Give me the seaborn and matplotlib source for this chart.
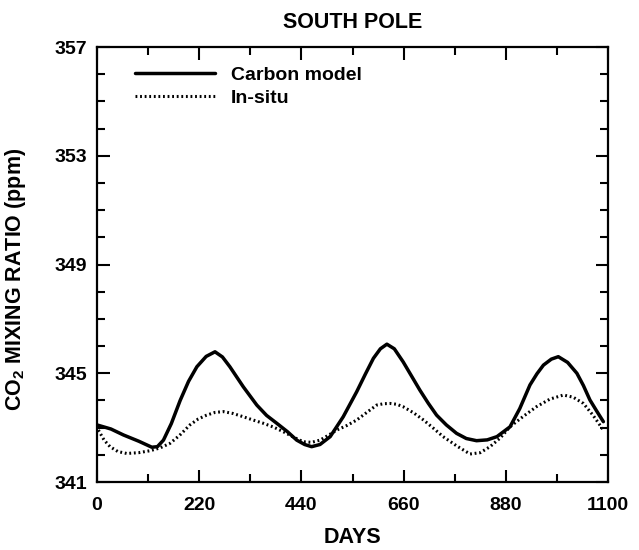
import matplotlib
matplotlib.use("Agg")
import matplotlib.pyplot as plt
from matplotlib.ticker import MultipleLocator, FixedLocator
import seaborn as sns
import pandas as pd

# Carbon model curve (days, ppm)
model_days = [0, 30, 57, 90, 118, 130, 143, 160, 179, 197, 215, 235, 254, 270, 286, 315,
              344, 365, 387, 410, 430, 447, 462, 480, 502, 530, 559, 578, 595, 610,
              624, 640, 659, 677, 695, 713, 731, 752, 774, 795, 817, 840, 861, 889,
              910, 932, 947, 961, 978, 993, 1013, 1033, 1047, 1061, 1076, 1090]
model_ppm = [343.10, 342.95, 342.73, 342.50, 342.28, 342.30, 342.54, 343.15, 344.00, 344.70,
             345.24, 345.62, 345.79, 345.60, 345.24, 344.50, 343.83, 343.45, 343.16,
             342.85, 342.54, 342.38, 342.30, 342.38, 342.67, 343.40, 344.32, 344.98,
             345.55, 345.90, 346.07, 345.90, 345.42, 344.90, 344.38, 343.90, 343.46,
             343.10, 342.79, 342.60, 342.52, 342.55, 342.67, 343.03, 343.70, 344.57,
             344.98, 345.30, 345.52, 345.61, 345.40, 345.00, 344.55, 344.02, 343.60,
             343.22]

# In-situ observations (days, ppm)
insitu_days = [3, 15, 28, 45, 64, 90, 114, 135, 157, 178, 200, 218, 236, 254, 272,
               293, 315, 336, 358, 380, 401, 422, 444, 462, 480, 498, 516, 538, 559,
               580, 602, 617, 631, 645, 659, 681, 703, 724, 745, 775, 803, 825, 846,
               868, 889, 918, 946, 975, 1004, 1025, 1047, 1068, 1090]
insitu_ppm = [342.91, 342.55, 342.30, 342.12, 342.05, 342.08, 342.15, 342.25, 342.42,
              342.72, 343.10, 343.32, 343.46, 343.56, 343.59, 343.52, 343.40, 343.28,
              343.16, 343.02, 342.85, 342.66, 342.48, 342.46, 342.54, 342.72, 342.91,
              343.08, 343.28, 343.55, 343.83, 343.88, 343.89, 343.86, 343.77, 343.55,
              343.28, 342.98, 342.67, 342.32, 342.03, 342.08, 342.30, 342.62, 343.03,
              343.42, 343.77, 344.05, 344.20, 344.12, 343.89, 343.45, 342.91]

y_ticks = [341, 345, 349, 353, 357]
x_ticks = [0, 220, 440, 660, 880, 1100]

model = pd.DataFrame({"day": model_days, "ppm": model_ppm})
insitu = pd.DataFrame({"day": insitu_days, "ppm": insitu_ppm})

sns.set_style("ticks")
plt.rcParams["font.family"] = ["Liberation Sans", "DejaVu Sans"]
plt.rcParams["font.weight"] = "bold"
plt.rcParams["text.color"] = "black"
plt.rcParams["axes.labelcolor"] = "black"
plt.rcParams["mathtext.default"] = "regular"

fig = plt.figure(figsize=(6.39, 5.50), dpi=100)
ax = fig.add_axes([0.1518, 0.1236, 0.7997, 0.7909])

sns.lineplot(data=model, x="day", y="ppm", ax=ax, color="black", linewidth=2.5,
             label="Carbon model", sort=False)
sns.lineplot(data=insitu, x="day", y="ppm", ax=ax, color="black", linewidth=2.2,
             linestyle=(0, (0.6, 0.9)), label="In-situ", sort=False)

ax.set_xlim(0, 1100)
ax.set_ylim(341, 357)
ax.xaxis.set_major_locator(FixedLocator(x_ticks))
ax.xaxis.set_minor_locator(MultipleLocator(110))
ax.yaxis.set_major_locator(FixedLocator(y_ticks))
ax.yaxis.set_minor_locator(MultipleLocator(1))
ax.tick_params(which="both", direction="in", top=True, right=True, width=1.5,
               labelsize=14, color="black", labelcolor="black")
ax.tick_params(axis="x", which="major", pad=11)
ax.tick_params(axis="y", which="major", pad=7)
ax.tick_params(which="major", length=9)
ax.tick_params(which="minor", length=6)
for side in ax.spines.values():
    side.set_linewidth(1.6)
    side.set_color("black")

ax.set_xlabel("DAYS", fontsize=15.5, fontweight="bold", va="center")
ax.xaxis.set_label_coords(0.5, -0.128)
ax.set_ylabel("CO$_2$ MIXING RATIO (ppm)", fontsize=15.5, fontweight="bold")
ax.yaxis.set_label_coords(-0.135, 0.465)
ax.set_title("SOUTH POLE", fontsize=15.5, pad=14, fontweight="bold")

leg = ax.legend(loc="upper left", frameon=False, fontsize=14, handlelength=4.1,
                handletextpad=0.85, labelspacing=0.3, borderpad=0, borderaxespad=0,
                bbox_to_anchor=(0.074, 0.956))

fig.savefig("out.png", dpi=100)
